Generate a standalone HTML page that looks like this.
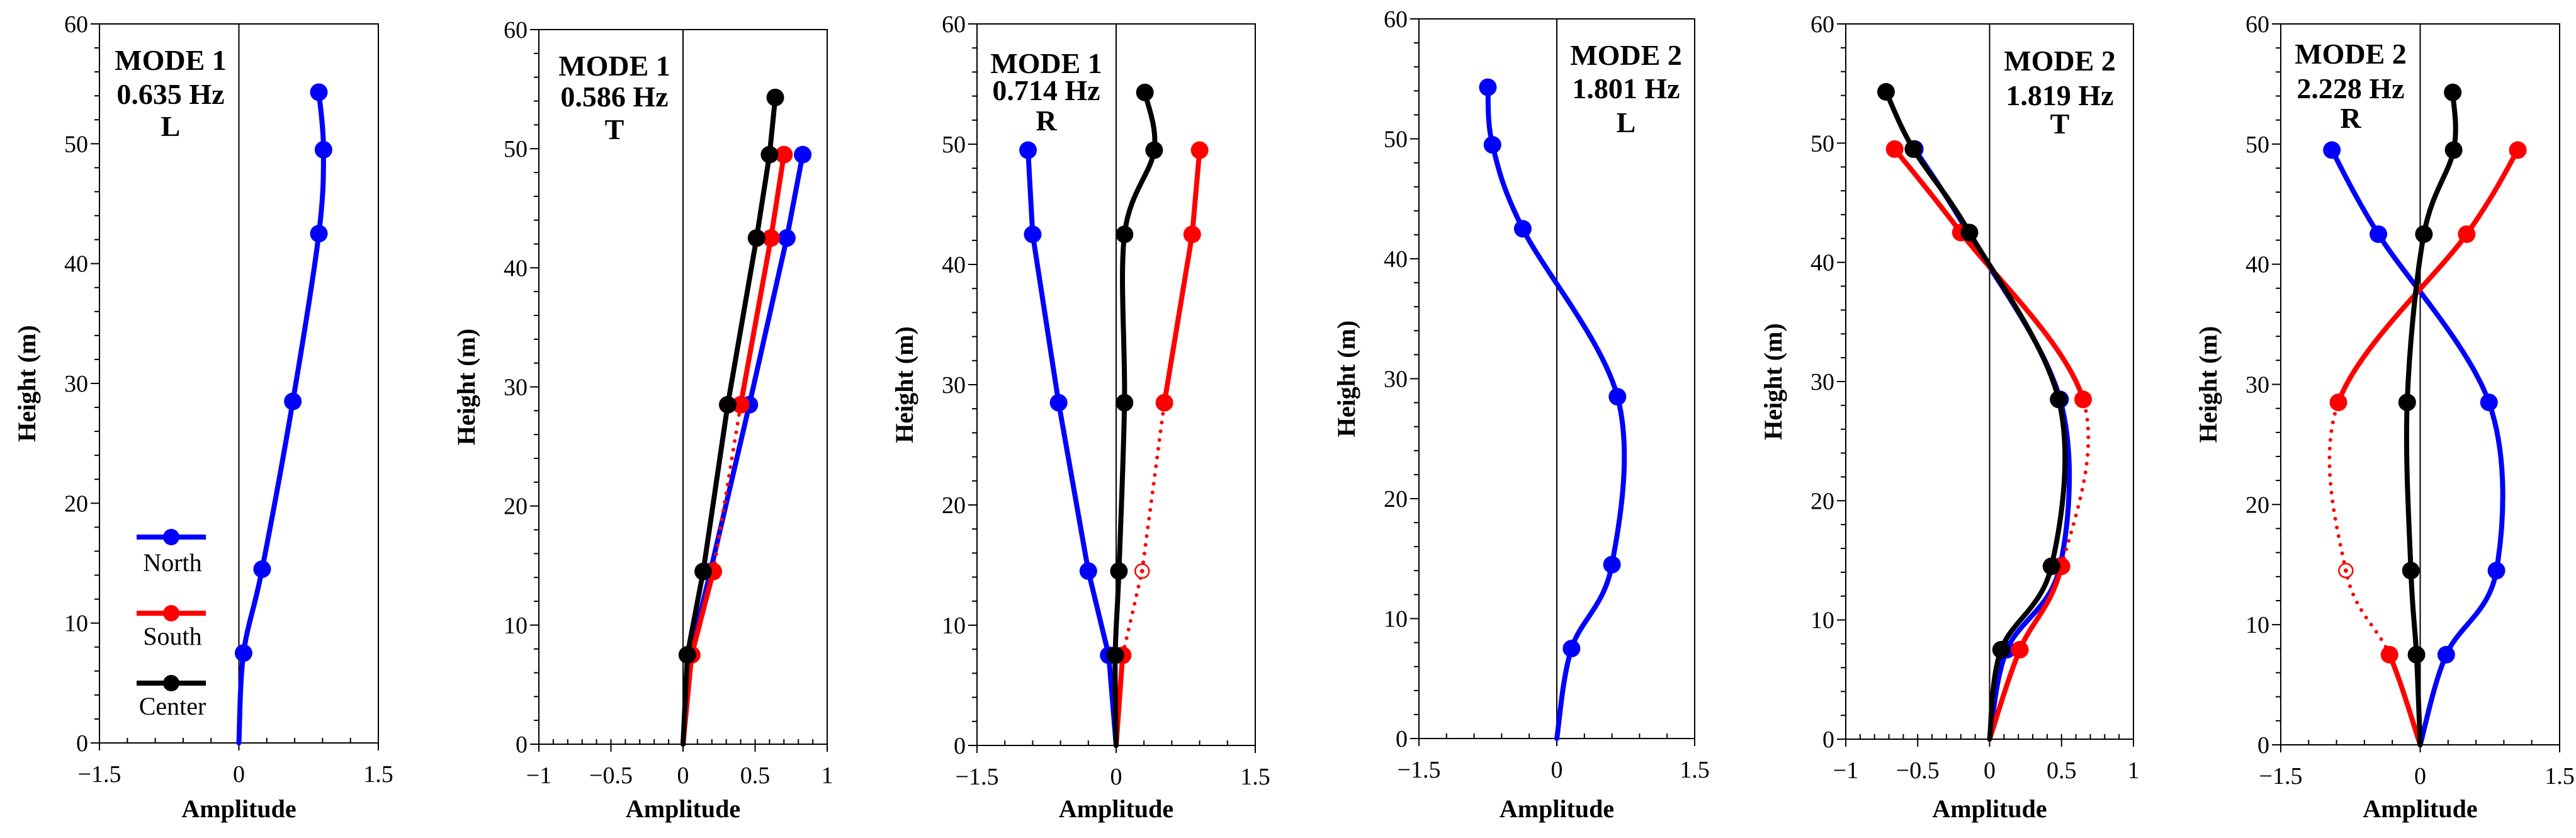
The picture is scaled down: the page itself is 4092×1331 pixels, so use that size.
<!DOCTYPE html>
<html><head><meta charset="utf-8"><style>
html,body{margin:0;padding:0;background:#fff;}
svg{display:block;}
svg text{font-family:"Liberation Serif","Times New Roman",serif;}
</style></head><body>
<svg id="chart" width="4092" height="1331" viewBox="0 0 4092 1331" xmlns="http://www.w3.org/2000/svg" font-family="Liberation Serif, serif"></svg>
<script>
const heights = [0, 7.5, 14.5, 28.5, 42.5, 49.5, 54.3];
// panel 1: Mode 1 L
const p1North = [0, 0.05, 0.25, 0.58, 0.86, 0.91, 0.86];
// panel 2: Mode 1 T
const p2North = [0, 0.05, 0.19, 0.46, 0.72, 0.83, null];
const p2South = [0, 0.06, 0.21, 0.40, 0.61, 0.70, null];
const p2Center = [0, 0.03, 0.14, 0.31, 0.51, 0.60, 0.64];
// panel 3: Mode 1 R
const p3North = [0, -0.08, -0.30, -0.62, -0.90, -0.95, null];
const p3South = [0, 0.07, 0.28, 0.52, 0.82, 0.90, null];
const p3Center = [0, -0.01, 0.03, 0.09, 0.09, 0.41, 0.31];
// panel 4: Mode 2 L
const p4North = [0, 0.16, 0.60, 0.66, -0.37, -0.70, -0.75];
// panel 5: Mode 2 T
const p5North = [0, 0.12, 0.49, 0.49, -0.15, -0.52, null];
const p5South = [0, 0.21, 0.50, 0.65, -0.20, -0.66, null];
const p5Center = [0, 0.08, 0.43, 0.48, -0.14, -0.53, -0.72];
// panel 6: Mode 2 R
const p6North = [0, 0.28, 0.82, 0.74, -0.45, -0.95, null];
const p6South = [0, -0.33, -0.80, -0.88, 0.50, 1.05, null];
const p6Center = [0, -0.04, -0.10, -0.14, 0.04, 0.36, 0.35];
const xTicks15 = [-1.5, 0, 1.5];
const xTicks1 = [-1, -0.5, 0, 0.5, 1];
const yTicks = [0, 10, 20, 30, 40, 50, 60];

const NS = "http://www.w3.org/2000/svg";
const FF = '"Liberation Serif", serif';
const svg = document.getElementById('chart');
function mk(tag, attrs, parent){const e=document.createElementNS(NS,tag);for(const k in attrs)e.setAttribute(k,attrs[k]);if(tag==='text')e.style.fontFamily=FF;(parent||svg).appendChild(e);return e;}
function fmt(v){return v<0?'\u2212'+Math.abs(v):String(v);}

const panels = [
 {l:158,r:601,t:38,b:1180,xmin:-1.5,xmax:1.5,ticks:xTicks15,minor:0.3,label:["MODE 1","0.635 Hz","L"],lx:271,ly:[95,149,200],
  series:[{c:'#0000ff',v:p1North,smooth:true}]},
 {l:856,r:1314,t:47,b:1182,xmin:-1,xmax:1,ticks:xTicks1,minor:0.1,label:["MODE 1","0.586 Hz","T"],lx:976,ly:[104,153,205],
  series:[{c:'#0000ff',v:p2North},{c:'#ff0000',v:p2South,dotted:[2]},{c:'#000000',v:p2Center}]},
 {l:1552,r:1994,t:38,b:1184,xmin:-1.5,xmax:1.5,ticks:xTicks15,minor:0.3,label:["MODE 1","0.714 Hz","R"],lx:1662,ly:[100,143,191],
  series:[{c:'#0000ff',v:p3North},{c:'#ff0000',v:p3South,dotted:[1,2],hollow:2},{c:'#000000',v:p3Center,smooth:true}]},
 {l:2254,r:2692,t:30,b:1173,xmin:-1.5,xmax:1.5,ticks:xTicks15,minor:0.3,label:["MODE 2","1.801 Hz","L"],lx:2583,ly:[87,140,194],
  series:[{c:'#0000ff',v:p4North,smooth:true}]},
 {l:2932,r:3389,t:38,b:1174,xmin:-1,xmax:1,ticks:xTicks1,minor:0.1,label:["MODE 2","1.819 Hz","T"],lx:3272,ly:[96,151,196],
  series:[{c:'#0000ff',v:p5North,smooth:true},{c:'#ff0000',v:p5South,smooth:true,dotted:[2]},{c:'#000000',v:p5Center,smooth:true}]},
 {l:3623,r:4066,t:38,b:1183,xmin:-1.5,xmax:1.5,ticks:xTicks15,minor:0.3,label:["MODE 2","2.228 Hz","R"],lx:3734,ly:[85,140,187],
  series:[{c:'#0000ff',v:p6North,smooth:true},{c:'#ff0000',v:p6South,smooth:true,dotted:[1,2],hollow:2},{c:'#000000',v:p6Center,smooth:true}]}
];
const names=['north','south','center'];

panels.forEach((p,pi)=>{
  const g=mk('g',{});
  
  
  const X=v=>p.l+(v-p.xmin)/(p.xmax-p.xmin)*(p.r-p.l);
  const Y=v=>p.b-v/60*(p.b-p.t);
  const frame=mk('rect',{x:p.l,y:p.t,width:p.r-p.l,height:p.b-p.t,fill:'none',stroke:'#000','stroke-width':2},g);
  
  const zl=mk('line',{x1:X(0),x2:X(0),y1:p.t,y2:p.b,stroke:'#000','stroke-width':2},g);
  
  for(let v=0;v<=60;v+=2){const maj=v%10===0;mk('line',{x1:p.l-(maj?14:8),x2:p.l,y1:Y(v),y2:Y(v),stroke:'#000','stroke-width':2},g);}
  yTicks.forEach(v=>{const t=mk('text',{x:p.l-18,y:Y(v)+13,'text-anchor':'end','font-size':38},g);t.textContent=v;
    });
  const n=Math.round((p.xmax-p.xmin)/p.minor);
  for(let i=0;i<=n;i++){const v=p.xmin+i*p.minor;mk('line',{x1:X(v),x2:X(v),y1:p.b,y2:p.b-8,stroke:'#000','stroke-width':2},g);}
  p.ticks.forEach(v=>{mk('line',{x1:X(v),x2:X(v),y1:p.b,y2:p.b+12,stroke:'#000','stroke-width':2},g);
    const t=mk('text',{x:X(v),y:p.b+62,'text-anchor':'middle','font-size':38},g);t.textContent=fmt(v);
    });
  const xt=mk('text',{x:(p.l+p.r)/2,y:1298,'text-anchor':'middle','font-size':40,'font-weight':'bold'},g);xt.textContent='Amplitude';
  
  const yx=p.l-102,yy=(p.t+p.b)/2;
  const yt=mk('text',{x:yx,y:yy,'text-anchor':'middle','font-size':40,'font-weight':'bold',transform:`rotate(-90 ${yx} ${yy})`},g);yt.textContent='Height (m)';
  
  p.label.forEach((s,i)=>{const t=mk('text',{x:p.lx,y:p.ly[i]+16,'text-anchor':'middle','font-size':46,'font-weight':'bold'},g);t.textContent=s;
    });
  p.series.forEach((s,si)=>{
    const pts=[];s.v.forEach((v,i)=>{if(v!==null)pts.push([X(v),Y(heights[i])]);});
    for(let i=0;i<pts.length-1;i++){
      let d;
      if(s.smooth){
        const p0=pts[Math.max(0,i-1)],p1=pts[i],p2=pts[i+1],p3=pts[Math.min(pts.length-1,i+2)];
        const c1=[p1[0]+(p2[0]-p0[0])/6,p1[1]+(p2[1]-p0[1])/6];
        const c2=[p2[0]-(p3[0]-p1[0])/6,p2[1]-(p3[1]-p1[1])/6];
        d=`M${p1[0]},${p1[1]} C${c1[0]},${c1[1]} ${c2[0]},${c2[1]} ${p2[0]},${p2[1]}`;
      } else d=`M${pts[i][0]},${pts[i][1]} L${pts[i+1][0]},${pts[i+1][1]}`;
      const dot=s.dotted&&s.dotted.includes(i);
      const path=mk('path',{d:d,fill:'none',stroke:s.c,'stroke-width':dot?6:8,'stroke-linecap':'round','stroke-dasharray':dot?'0 14':'none'},g);
      
      
    }
    pts.forEach((q,i)=>{
      if(i===0)return;
      if(s.hollow===i){
        const c=mk('circle',{cx:q[0],cy:q[1],r:11,fill:'#fff',stroke:s.c,'stroke-width':2.5},g);
        
        mk('circle',{cx:q[0],cy:q[1],r:3.5,fill:s.c},g);
      } else {
        const c=mk('circle',{cx:q[0],cy:q[1],r:14,fill:s.c},g);
        
      }
    });
  });
});
const legend=[['North','#0000ff',853,893],['South','#ff0000',974,1010],['Center','#000000',1085,1121]];
legend.forEach(([t,c,ly,ty])=>{
  const g=mk('g',{});
  
  
  mk('line',{x1:217,x2:327,y1:ly,y2:ly,stroke:c,'stroke-width':8},g);
  mk('circle',{cx:272,cy:ly,r:13,fill:c},g);
  const tx=mk('text',{x:274,y:ty+14,'text-anchor':'middle','font-size':40},g);tx.textContent=t;
});
</script>
</body></html>
